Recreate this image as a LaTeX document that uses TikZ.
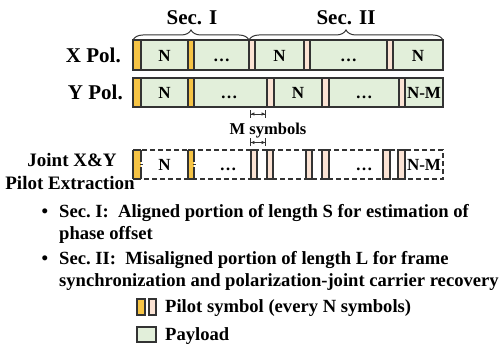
\documentclass[tikz,border=0pt]{standalone}
\usepackage{fontspec}
\setmainfont{Liberation Serif}
\usetikzlibrary{decorations.pathreplacing,arrows.meta}
\definecolor{payloadgreen}{HTML}{E2EFDA}
\definecolor{pilotyellow}{HTML}{F6C445}
\definecolor{pilotpink}{HTML}{FBE3D4}
\definecolor{edgegray}{HTML}{333333}
\begin{document}
\begin{tikzpicture}[x=1pt,y=-1pt,
  barbox/.style={draw=edgegray,line width=1.2pt,fill=payloadgreen},
  ypilot/.style={draw=edgegray,line width=1.2pt,fill=pilotyellow},
  ppilot/.style={draw=edgegray,line width=1.2pt,fill=pilotpink},
  edgeline/.style={draw=edgegray,line width=1.2pt},
  dashbox/.style={draw=edgegray,line width=1.2pt,dash pattern=on 5pt off 3pt},
  bartext/.style={font=\bfseries\fontsize{17}{20}\selectfont,inner sep=0pt,anchor=base},
  rowlabel/.style={font=\bfseries\fontsize{21}{24}\selectfont,inner sep=0pt,anchor=base east},
  seclabel/.style={font=\bfseries\fontsize{21}{24}\selectfont,inner sep=0pt,anchor=base},
  jointlabel/.style={font=\bfseries\fontsize{19}{22}\selectfont,inner sep=0pt,anchor=base},
  bodytext/.style={font=\bfseries\fontsize{18.6}{22}\selectfont,inner sep=0pt,anchor=base west},
  msym/.style={font=\bfseries\fontsize{16.5}{19}\selectfont,inner sep=0pt,anchor=base},
  secbrace/.style={draw=edgegray,line width=1pt,decorate,decoration={brace,amplitude=10pt}},
  dimarrow/.style={draw=edgegray,line width=0.9pt}
]
\useasboundingbox (0,0) rectangle (501,352);

% ---------- section labels and braces
\coordinate (s1l) at (133,40);
\coordinate (s1r) at (249,40);
\coordinate (s2r) at (443,40);
\draw[secbrace] (s1l) -- (s1r);
\draw[secbrace] (s1r) -- (s2r);
\node[seclabel] (sec1) at (192,25) {Sec. I};
\node[seclabel] (sec2) at (346,25) {Sec. II};

% ---------- X Pol row
\node[rowlabel] (xpol) at (121,63) {X Pol.};
\draw[barbox] (133,40) rectangle (443,70);
\draw[ypilot] (133,40) rectangle (141,70);
\draw[ypilot] (188,40) rectangle (194,70);
\draw[ppilot] (249,40) rectangle (255,70);
\draw[ppilot] (304,40) rectangle (310,70);
\draw[ppilot] (387,40) rectangle (393,70);
\node[bartext] (xn1) at (164.5,61.5) {N};
\node[bartext] (xd1) at (221.5,61.5) {\ldots};
\node[bartext] (xn2) at (279.5,61.5) {N};
\node[bartext] (xd2) at (348.5,61.5) {\ldots};
\node[bartext] (xn3) at (418,61.5) {N};

% ---------- Y Pol row
\node[rowlabel] (ypol) at (123,100) {Y Pol.};
\draw[barbox] (133,78) rectangle (443,107);
\draw[ypilot] (133,78) rectangle (141,107);
\draw[ypilot] (188,78) rectangle (194,107);
\draw[ppilot] (267,78) rectangle (274,107);
\draw[ppilot] (322,78) rectangle (329,107);
\draw[ppilot] (399,78) rectangle (405,107);
\node[bartext] (yn1) at (164.5,99) {N};
\node[bartext] (yd1) at (229,99) {\ldots};
\node[bartext] (yn2) at (298,99) {N};
\node[bartext] (yd2) at (364,99) {\ldots};
\node[bartext] (ynm) at (424,99) {N-M};

% ---------- M symbols
\coordinate (ma1) at (250,114);
\coordinate (ma2) at (266,114);
\coordinate (mb1) at (250,142.5);
\coordinate (mb2) at (266,142.5);
\draw[dimarrow,{Bar[width=8pt]Latex[length=3.5pt,width=3.5pt]}-{Latex[length=3.5pt,width=3.5pt]Bar[width=8pt]}] (ma1) -- (ma2);
\draw[dimarrow,{Bar[width=8pt]Latex[length=3.5pt,width=3.5pt]}-{Latex[length=3.5pt,width=3.5pt]Bar[width=8pt]}] (mb1) -- (mb2);
\node[msym] (msymb) at (268,135) {M symbols};

% ---------- Joint row
\node[jointlabel] (jl1) at (72,167) {Joint X\&Y};
\node[jointlabel] (jl2) at (70,190) {Pilot Extraction};
\draw[dashbox] (133,150) rectangle (443,179);
\fill[pilotyellow] (133,150) rectangle (141,179);
\fill[pilotyellow] (188,150) rectangle (194,179);
\draw[edgeline] (133,150) -- (133,179);
\draw[edgeline] (141,150) -- (141,162) (141,167) -- (141,179) (139.5,164.5) -- (142.5,164.5);
\draw[edgeline] (188,150) -- (188,179);
\draw[edgeline] (194,150) -- (194,162) (194,167) -- (194,179) (192.5,164.5) -- (195.5,164.5);
\draw[edgeline] (133,150) -- (141,150) (133,179) -- (141,179);
\draw[edgeline] (188,150) -- (194,150) (188,179) -- (194,179);
\draw[ppilot] (251,150) rectangle (257,179);
\draw[ppilot] (267,150) rectangle (273,179);
\draw[ppilot] (306,150) rectangle (312,179);
\draw[ppilot] (322,150) rectangle (329,179);
\draw[ppilot] (383,150) rectangle (390,179);
\draw[ppilot] (398,150) rectangle (405,179);
\node[bartext] (jn1) at (164.5,171) {N};
\node[bartext] (jd1) at (228,171) {\ldots};
\node[bartext] (jd2) at (364,171) {\ldots};
\node[bartext] (jnm) at (424,171) {N-M};

% ---------- bullets
\node[bodytext] (bul1) at (41.5,218) {\textbullet};
\node[bodytext] (t1a) at (59,218) {Sec.~I:\hspace{0.5em}Aligned portion of length S for estimation of};
\node[bodytext] (t1b) at (59,240) {phase offset};
\node[bodytext] (bul2) at (41.5,265) {\textbullet};
\node[bodytext] (t2a) at (59,265) {Sec.~II:\hspace{0.5em}Misaligned portion of length L for frame};
\node[bodytext] (t2b) at (59,287) {synchronization and polarization-joint carrier recovery};

% ---------- legend
\draw[ypilot] (137,299) rectangle (145,315);
\draw[ppilot] (149,299) rectangle (156,315);
\draw[barbox] (137,327) rectangle (156,342);
\node[bodytext] (lg1) at (165,313) {Pilot symbol (every N symbols)};
\node[bodytext] (lg2) at (165,341) {Payload};
\end{tikzpicture}
\end{document}
